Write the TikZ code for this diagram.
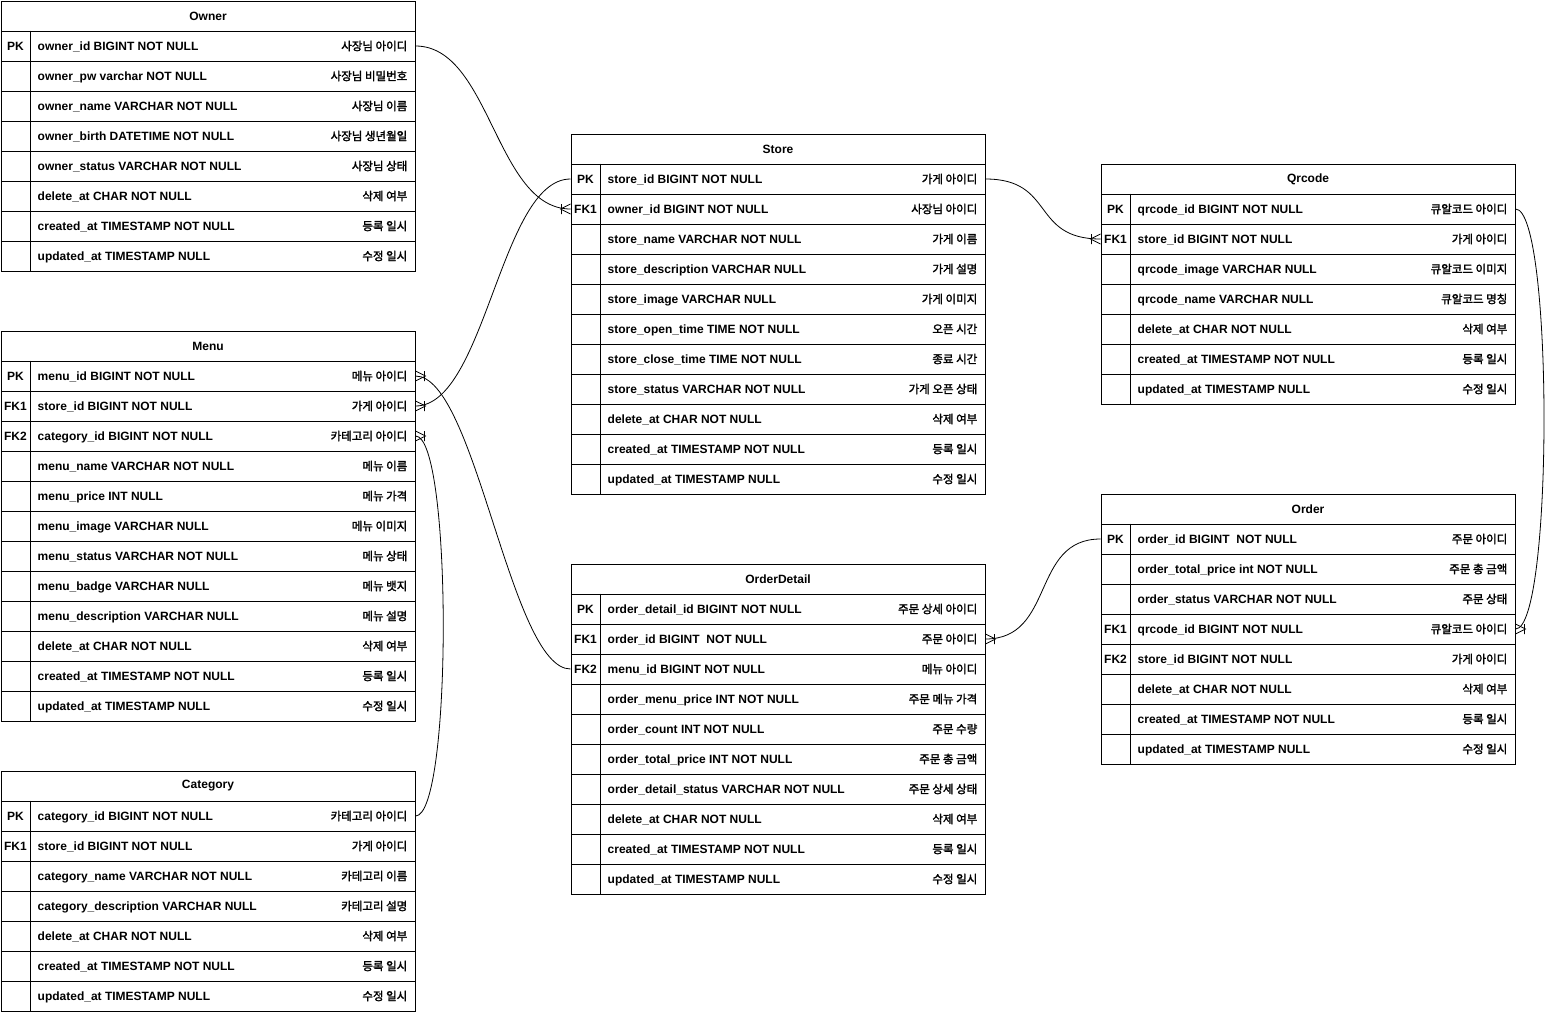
\documentclass[tikz,border=0pt]{standalone}
\usepackage{fontspec}
\setmainfont{Liberation Sans}
\newfontfamily\kofont[FakeBold=2]{Noto Sans CJK KR}

\tikzset{
  tabhead/.style={draw, line width=1pt, anchor=north west, minimum width=414pt,
    minimum height=30pt, inner sep=0pt},
  tabrow/.style={draw, line width=1pt, anchor=north west, minimum width=414pt,
    minimum height=30pt, inner sep=0pt},
  keytext/.style={inner sep=0pt, text height=8.6pt, text depth=0pt},
  fieldtext/.style={anchor=west, inner sep=0pt, text height=8.6pt, text depth=0pt},
  labeltext/.style={anchor=east, inner sep=0pt, text height=8.6pt, text depth=0pt,
    font=\kofont\fontsize{11.5}{13}\selectfont},
  rel/.style={line width=0.8pt},
  crowfoot/.pic={\draw[line width=0.8pt] (0,-5) -- (-10,0) -- (0,5) (-9,-5) -- (-9,5);}
}

% one entity box: name, x, y, title, rows (key/field/label)
\newcommand\ertable[5]{%
  \node[tabhead] (#1) at (#2,#3) {#4};
  \foreach \k/\f/\l [count=\i] in {#5}{
    \node[tabrow] (#1-\i) at (#2,{#3+30*\i}) {};
    \draw[line width=1pt] ([xshift=30pt]#1-\i.north west) -- ([xshift=30pt]#1-\i.south west);
    \node[keytext] (#1-\i-k) at ([xshift=15pt]#1-\i.west) {\k};
    \node[fieldtext] (#1-\i-f) at ([xshift=37pt]#1-\i.west) {\f};
    \node[labeltext] (#1-\i-l) at ([xshift=-8pt]#1-\i.east) {\l};
  }
}

\begin{document}
\begin{tikzpicture}[x=1pt, y=-1pt,
    every node/.style={font=\fontsize{12}{14}\selectfont\bfseries}]
  \useasboundingbox[fill=white] (0,0) rectangle (1546,1012);

  \ertable{owner}{0.5}{0.5}{Owner}{
    PK/owner\_id BIGINT NOT NULL/사장님 아이디,
    {}/owner\_pw varchar NOT NULL/사장님 비밀번호,
    {}/owner\_name VARCHAR NOT NULL/사장님 이름,
    {}/owner\_birth DATETIME NOT NULL/사장님 생년월일,
    {}/owner\_status VARCHAR NOT NULL/사장님 상태,
    {}/delete\_at CHAR NOT NULL/삭제 여부,
    {}/created\_at TIMESTAMP NOT NULL/등록 일시,
    {}/updated\_at TIMESTAMP NULL/수정 일시}

  \ertable{menu}{0.5}{330.5}{Menu}{
    PK/menu\_id BIGINT NOT NULL/메뉴 아이디,
    FK1/store\_id BIGINT NOT NULL/가게 아이디,
    FK2/category\_id BIGINT NOT NULL/카테고리 아이디,
    {}/menu\_name VARCHAR NOT NULL/메뉴 이름,
    {}/menu\_price INT NULL/메뉴 가격,
    {}/menu\_image VARCHAR NULL/메뉴 이미지,
    {}/menu\_status VARCHAR NOT NULL/메뉴 상태,
    {}/menu\_badge VARCHAR NULL/메뉴 뱃지,
    {}/menu\_description VARCHAR NULL/메뉴 설명,
    {}/delete\_at CHAR NOT NULL/삭제 여부,
    {}/created\_at TIMESTAMP NOT NULL/등록 일시,
    {}/updated\_at TIMESTAMP NULL/수정 일시}

  \ertable{category}{0.5}{770.5}{Category}{
    PK/category\_id BIGINT NOT NULL/카테고리 아이디,
    FK1/store\_id BIGINT NOT NULL/가게 아이디,
    {}/category\_name VARCHAR NOT NULL/카테고리 이름,
    {}/category\_description VARCHAR NULL/카테고리 설명,
    {}/delete\_at CHAR NOT NULL/삭제 여부,
    {}/created\_at TIMESTAMP NOT NULL/등록 일시,
    {}/updated\_at TIMESTAMP NULL/수정 일시}

  \ertable{store}{570.5}{133.5}{Store}{
    PK/store\_id BIGINT NOT NULL/가게 아이디,
    FK1/owner\_id BIGINT NOT NULL/사장님 아이디,
    {}/store\_name VARCHAR NOT NULL/가게 이름,
    {}/store\_description VARCHAR NULL/가게 설명,
    {}/store\_image VARCHAR NULL/가게 이미지,
    {}/store\_open\_time TIME NOT NULL/오픈 시간,
    {}/store\_close\_time TIME NOT NULL/종료 시간,
    {}/store\_status VARCHAR NOT NULL/가게 오픈 상태,
    {}/delete\_at CHAR NOT NULL/삭제 여부,
    {}/created\_at TIMESTAMP NOT NULL/등록 일시,
    {}/updated\_at TIMESTAMP NULL/수정 일시}

  \ertable{orderdetail}{570.5}{563.5}{OrderDetail}{
    PK/order\_detail\_id BIGINT NOT NULL/주문 상세 아이디,
    FK1/order\_id BIGINT\ \ NOT NULL/주문 아이디,
    FK2/menu\_id BIGINT NOT NULL/메뉴 아이디,
    {}/order\_menu\_price INT NOT NULL/주문 메뉴 가격,
    {}/order\_count INT NOT NULL/주문 수량,
    {}/order\_total\_price INT NOT NULL/주문 총 금액,
    {}/order\_detail\_status VARCHAR NOT NULL/주문 상세 상태,
    {}/delete\_at CHAR NOT NULL/삭제 여부,
    {}/created\_at TIMESTAMP NOT NULL/등록 일시,
    {}/updated\_at TIMESTAMP NULL/수정 일시}

  \ertable{qrcode}{1100.5}{163.5}{Qrcode}{
    PK/qrcode\_id BIGINT NOT NULL/큐알코드 아이디,
    FK1/store\_id BIGINT NOT NULL/가게 아이디,
    {}/qrcode\_image VARCHAR NULL/큐알코드 이미지,
    {}/qrcode\_name VARCHAR NULL/큐알코드 명칭,
    {}/delete\_at CHAR NOT NULL/삭제 여부,
    {}/created\_at TIMESTAMP NOT NULL/등록 일시,
    {}/updated\_at TIMESTAMP NULL/수정 일시}

  \ertable{order}{1100.5}{493.5}{Order}{
    PK/order\_id BIGINT\ \ NOT NULL/주문 아이디,
    {}/order\_total\_price int NOT NULL/주문 총 금액,
    {}/order\_status VARCHAR NOT NULL/주문 상태,
    FK1/qrcode\_id BIGINT NOT NULL/큐알코드 아이디,
    FK2/store\_id BIGINT NOT NULL/가게 아이디,
    {}/delete\_at CHAR NOT NULL/삭제 여부,
    {}/created\_at TIMESTAMP NOT NULL/등록 일시,
    {}/updated\_at TIMESTAMP NULL/수정 일시}

  % relations
  \draw[rel] (owner-1.east) .. controls +(75,0) and +(-75,0) .. (store-2.west);
  \pic at (store-2.west) {crowfoot};
  \draw[rel] (store-1.west) .. controls +(-70,0) and +(70,0) .. (menu-2.east);
  \pic[xscale=-1] at (menu-2.east) {crowfoot};
  \draw[rel] (store-1.east) .. controls +(70,0) and +(-70,0) .. (qrcode-2.west);
  \pic at (qrcode-2.west) {crowfoot};
  \draw[rel] (menu-1.east) .. controls +(60,0) and +(-60,0) .. (orderdetail-3.west);
  \pic[xscale=-1] at (menu-1.east) {crowfoot};
  \draw[rel] (category-1.east) .. controls +(37,0) and +(37,0) .. (menu-3.east);
  \pic[xscale=-1] at (menu-3.east) {crowfoot};
  \draw[rel] (order-1.west) .. controls +(-70,0) and +(70,0) .. (orderdetail-2.east);
  \pic[xscale=-1] at (orderdetail-2.east) {crowfoot};
  \draw[rel] (qrcode-1.east) .. controls +(38,0) and +(38,0) .. (order-4.east);
  \pic[xscale=-1] at (order-4.east) {crowfoot};
\end{tikzpicture}
\end{document}
